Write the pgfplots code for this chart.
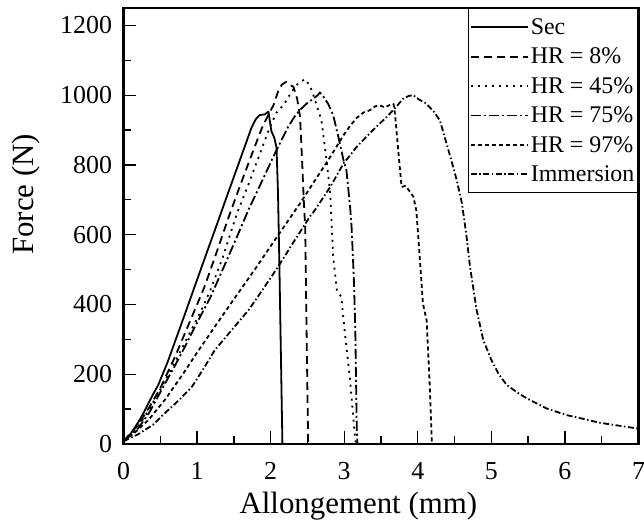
\documentclass[border=0pt]{standalone}
\usepackage{fontspec}
\setmainfont{Liberation Serif}
\usepackage{pgfplots}
\pgfplotsset{compat=1.18}
\begin{document}
\begin{tikzpicture}
\begin{axis}[
  scale only axis, width=515bp, height=436bp,
  xmin=0, xmax=7, ymin=0, ymax=1250,
  xtick={0,1,...,7}, ytick={0,200,...,1200},
  minor x tick num=1, minor y tick num=1,
  tick align=inside, xtick pos=bottom, ytick pos=left,
  major tick length=13bp, minor tick length=8bp,
  every tick/.style={black, line width=1.3bp},
  axis line style={line width=2.5bp},
  /pgf/number format/1000 sep={},
  /pgf/number format/assume math mode=true,
  ticklabel style={font=\fontsize{26}{30}\selectfont},
  xticklabel style={inner sep=1bp, yshift=-17bp},
  yticklabel style={xshift=-8bp},
  every axis x label/.style={at={(axis description cs:0.456,0)}, yshift=-69bp, anchor=base, inner sep=1bp},
  every axis y label/.style={at={(axis description cs:0,0.573)}, xshift=-97bp, rotate=90, anchor=center},
  label style={font=\fontsize{31}{36}\selectfont},
  xlabel={Allongement (mm)},
  ylabel={Force (N)},
  legend style={at={(axis description cs:1,1)}, anchor=north east, draw=black, line width=1.2bp,
    font=\fontsize{24}{28}\selectfont, inner xsep=1.5bp, inner ysep=8bp, row sep=8bp,
    nodes={inner sep=2bp}, cells={anchor=west}},
  legend image code/.code={\draw[#1, line width=1.8bp] (0bp,0bp) -- (57bp,0bp);},
  every axis plot/.append style={line width=1.8bp, black, line join=round},
]
\addplot[solid] coordinates {(0,8)(0.1,30)(0.2,62)(0.27,88)(0.4,142)(0.47,168)(0.6,235)(0.8,352)(0.95,441)(1.1,530)(1.24,612)(1.4,707)(1.55,795)(1.65,854)(1.74,907)(1.8,932)(1.85,943)(1.92,945)(1.97,953)(1.99,925)(2.01,897)(2.05,878)(2.08,850)(2.10,720)(2.12,500)(2.14,250)(2.16,0)(2.6,0)};
\addlegendentry{Sec}
\addplot[dash pattern=on 8bp off 5bp] coordinates {(0,8)(0.2,55)(0.35,105)(0.5,160)(0.7,250)(0.85,325)(1.02,410)(1.1,450)(1.25,540)(1.42,645)(1.58,738)(1.74,828)(1.88,905)(1.96,940)(2.04,972)(2.1,1010)(2.15,1030)(2.21,1038)(2.26,1030)(2.31,1024)(2.36,990)(2.40,938)(2.43,800)(2.45,700)(2.47,620)(2.49,300)(2.51,0)(3.2,0)};
\addlegendentry{HR = 8\%}
\addplot[dash pattern=on 2bp off 5bp] coordinates {(0,8)(0.2,50)(0.35,100)(0.52,164)(0.7,235)(0.9,318)(1.05,380)(1.18,441)(1.35,535)(1.54,660)(1.7,745)(1.85,830)(1.99,909)(2.08,950)(2.19,976)(2.27,1005)(2.35,1029)(2.42,1040)(2.47,1046)(2.52,1030)(2.56,1014)(2.62,975)(2.69,928)(2.76,814)(2.81,718)(2.85,537)(2.90,441)(2.96,422)(3.01,317)(3.08,183)(3.15,10)(3.17,0)(4.3,0)};
\addlegendentry{HR = 45\%}
\addplot[dash pattern=on 10bp off 3bp on 2bp off 3bp] coordinates {(0,8)(0.2,45)(0.35,90)(0.53,160)(0.7,225)(0.85,285)(1.0,348)(1.18,420)(1.4,525)(1.55,598)(1.7,672)(1.87,748)(2.04,825)(2.14,868)(2.24,910)(2.33,940)(2.41,960)(2.5,978)(2.58,990)(2.64,1000)(2.67,1008)(2.72,995)(2.78,976)(2.85,943)(2.92,881)(2.99,814)(3.03,785)(3.08,680)(3.10,623)(3.13,480)(3.15,336)(3.17,50)(3.18,0)(4.1,0)};
\addlegendentry{HR = 75\%}
\addplot[dash pattern=on 4bp off 3bp] coordinates {(0,8)(0.15,32)(0.34,69)(0.56,126)(0.8,198)(1.0,262)(1.24,336)(1.5,415)(1.8,505)(2.1,598)(2.4,690)(2.6,755)(2.81,823)(2.99,885)(3.08,912)(3.17,935)(3.26,950)(3.35,957)(3.42,968)(3.48,971)(3.55,965)(3.62,972)(3.67,975)(3.69,947)(3.73,852)(3.78,737)(3.83,740)(3.87,730)(3.94,709)(3.98,670)(4.01,585)(4.07,403)(4.12,355)(4.16,180)(4.19,10)(4.2,0)(5.1,0)};
\addlegendentry{HR = 97\%}
\addplot[dash pattern=on 6bp off 2.5bp on 1.5bp off 2.5bp] coordinates {(0,8)(0.2,28)(0.4,55)(0.56,88)(0.75,125)(0.93,164)(1.1,220)(1.24,269)(1.5,334)(1.70,384)(1.9,445)(2.10,508)(2.3,575)(2.53,651)(2.60,670)(2.81,737)(2.99,804)(3.17,852)(3.39,900)(3.58,938)(3.70,965)(3.80,990)(3.88,998)(3.94,1000)(3.98,993)(4.03,986)(4.1,978)(4.16,966)(4.23,950)(4.30,928)(4.39,862)(4.46,810)(4.53,756)(4.60,690)(4.66,600)(4.71,508)(4.80,384)(4.89,298)(5.0,241)(5.1,200)(5.21,169)(5.35,148)(5.48,131)(5.75,102)(6.02,83)(6.25,72)(6.47,61)(6.75,52)(7.0,44)};
\addlegendentry{Immersion}
\end{axis}
\pgfresetboundingbox
\path[use as bounding box] (-123.5bp,-77bp) rectangle (520.5bp,444bp);
\end{tikzpicture}
\end{document}
